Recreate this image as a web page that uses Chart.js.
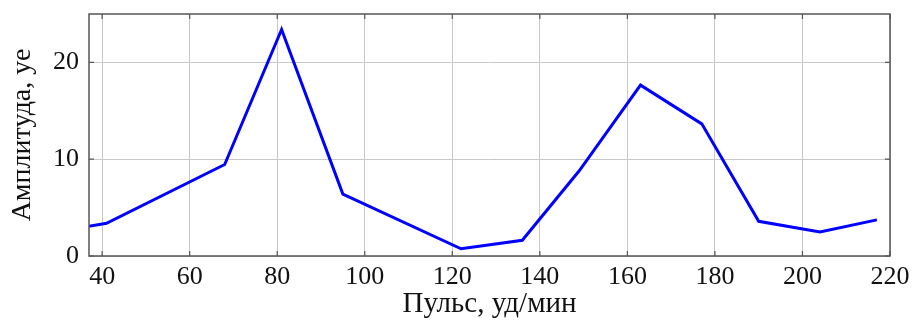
<!DOCTYPE html>
<html>
<head>
<meta charset="utf-8">
<script src="https://cdn.jsdelivr.net/npm/chart.js@4"></script>
<style>
  html, body { margin: 0; padding: 0; background: #fff; }
  #wrap { width: 912px; height: 322px; }
</style>
</head>
<body>
<div id="wrap"><canvas id="c" width="912" height="322"></canvas></div>
<script>
// pulse rate (beats/min) vs amplitude
const pulse = [36, 41, 68, 81, 95, 122, 136, 149, 163, 177, 190, 204, 217];
const amplitude = [3.0, 3.38, 9.45, 23.4, 6.4, 0.75, 1.63, 8.8, 17.65, 13.65, 3.58, 2.49, 3.73];
const xTicks = [40, 60, 80, 100, 120, 140, 160, 180, 200, 220];
const yTicks = [0, 10, 20];

const font = "'Liberation Serif', 'DejaVu Serif', serif";

// closed frame plus inward tick marks, pgfplots style
const framePlugin = {
  id: 'frame',
  afterDraw(chart) {
    const { ctx, chartArea: a, scales } = chart;
    ctx.save();
    ctx.strokeStyle = '#555';
    ctx.lineWidth = 1.2;
    ctx.beginPath();
    xTicks.forEach(v => {
      const x = scales.x.getPixelForValue(v);
      ctx.moveTo(x, a.bottom); ctx.lineTo(x, a.bottom - 5);
      ctx.moveTo(x, a.top); ctx.lineTo(x, a.top + 5);
    });
    yTicks.forEach(v => {
      const y = scales.y.getPixelForValue(v);
      ctx.moveTo(a.left, y); ctx.lineTo(a.left + 5, y);
      ctx.moveTo(a.right, y); ctx.lineTo(a.right - 5, y);
    });
    ctx.stroke();
    ctx.lineWidth = 1.5;
    ctx.strokeRect(a.left, a.top, a.right - a.left, a.bottom - a.top);
    ctx.restore();
  }
};

new Chart(document.getElementById('c'), {
  type: 'line',
  data: {
    datasets: [{
      data: pulse.map((p, i) => ({ x: p, y: amplitude[i] })),
      borderColor: '#0000ff',
      borderWidth: 3,
      pointRadius: 0,
      tension: 0,
      fill: false
    }]
  },
  options: {
    responsive: false,
    animation: false,
    layout: { padding: { top: 14, right: 22, left: 0, bottom: 0 } },
    plugins: { legend: { display: false }, tooltip: { enabled: false } },
    scales: {
      x: {
        type: 'linear',
        min: 37, max: 220,
        afterFit(s) { s.height = 66; s.paddingLeft = 0; s.paddingRight = 0; },
        afterBuildTicks(s) { s.ticks = xTicks.map(v => ({ value: v })); },
        grid: { color: '#c8c8c8', lineWidth: 1, drawTicks: false },
        border: { display: false },
        ticks: { color: '#111', padding: 6, font: { family: font, size: 26 } },
        title: {
          display: true, text: 'Пульс, уд/мин', color: '#111',
          font: { family: font, size: 29 }, padding: { top: 0, bottom: 0 }
        }
      },
      y: {
        min: 0, max: 25,
        afterFit(s) { s.width = 89; s.paddingTop = 0; s.paddingBottom = 0; },
        afterBuildTicks(s) { s.ticks = yTicks.map(v => ({ value: v })); },
        grid: { color: '#c8c8c8', lineWidth: 1, drawTicks: false },
        border: { display: false },
        ticks: { color: '#111', padding: 10, font: { family: font, size: 26 } },
        title: {
          display: true, text: 'Амплитуда, уе', color: '#111',
          font: { family: font, size: 28 }, padding: { top: 6, bottom: 0 }
        }
      }
    }
  },
  plugins: [framePlugin]
});
</script>
</body>
</html>
